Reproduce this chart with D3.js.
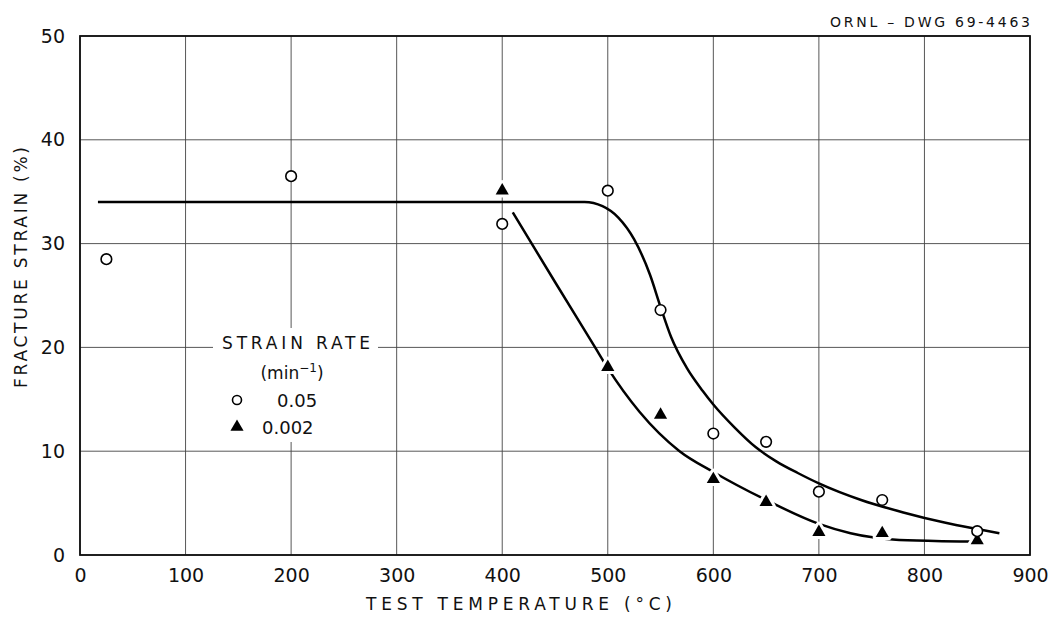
<!DOCTYPE html>
<html>
<head>
<meta charset="utf-8">
<script src="https://cdn.jsdelivr.net/npm/d3@7"></script>
<style>
  body { margin: 0; background: #fff; }
  svg { display: block; }
  text { font-family: "DejaVu Sans", sans-serif; fill: #111; }
  .grid line { stroke: #444; stroke-width: 0.9; }
  .curve { fill: none; stroke: #000; stroke-width: 2.5; }
</style>
</head>
<body>
<svg id="chart" width="1054" height="619"></svg>
<script>
// tick labels
var xTicks = [0, 100, 200, 300, 400, 500, 600, 700, 800, 900];
var yTicks = [0, 10, 20, 30, 40, 50];

// strain rate 0.05 min^-1 (open circles)
var fastTemp   = [25, 200, 400, 500, 550, 600, 650, 700, 760, 850];
var fastStrain = [28.5, 36.5, 31.9, 35.1, 23.6, 11.7, 10.9, 6.1, 5.3, 2.3];

// strain rate 0.002 min^-1 (filled triangles)
var slowTemp   = [400, 500, 550, 600, 650, 700, 760, 850];
var slowStrain = [35.0, 18.0, 13.4, 7.2, 5.0, 2.1, 2.0, 1.3];

// hand-drawn fit curves
var fastCurveTemp   = [17, 300, 478, 495, 510, 525, 540, 550, 560, 575, 590, 600, 620, 640, 660, 680, 700, 740, 780, 820, 850, 871];
var fastCurveStrain = [34, 34, 34, 33.6, 32.5, 30.4, 27.0, 23.9, 21.0, 18.0, 15.8, 14.5, 12.3, 10.4, 9.0, 7.9, 6.9, 5.3, 4.1, 3.1, 2.5, 2.1];
var slowCurveTemp   = [410, 450, 488, 500, 530, 568, 600, 650, 700, 730, 770, 810, 845];
var slowCurveStrain = [33, 26.3, 20, 18, 13.8, 10, 8.0, 5.3, 3.0, 2.1, 1.5, 1.35, 1.3];

var svg = d3.select("#chart");

var x = d3.scaleLinear().domain([0, 900]).range([80, 1030]);
var y = d3.scaleLinear().domain([0, 50]).range([555, 36]);

/* grid */
var grid = svg.append("g").attr("class", "grid");
grid.selectAll("line.v").data(xTicks).enter().append("line")
  .attr("class", "v")
  .attr("x1", function(d) { return x(d); }).attr("x2", function(d) { return x(d); })
  .attr("y1", y(0)).attr("y2", y(50));
grid.selectAll("line.h").data(yTicks).enter().append("line")
  .attr("class", "h")
  .attr("x1", x(0)).attr("x2", x(900))
  .attr("y1", function(d) { return y(d); }).attr("y2", function(d) { return y(d); });

// legend background cuts the grid
svg.append("rect")
  .attr("x", 213).attr("y", 328).attr("width", 165).attr("height", 114)
  .attr("fill", "#fff");

// frame
svg.append("rect")
  .attr("x", x(0)).attr("y", y(50))
  .attr("width", x(900) - x(0)).attr("height", y(0) - y(50))
  .attr("fill", "none").attr("stroke", "#111").attr("stroke-width", 1.8);

/* axes labels */
var yAxis = d3.axisLeft(y).tickValues(yTicks).tickSize(0).tickPadding(15);
svg.append("g").attr("transform", "translate(" + x(0) + ",0)").call(yAxis)
  .call(function(g) { g.select(".domain").remove(); })
  .selectAll("text").style("font-size", "19px").attr("fill", "#111");

var xAxis = d3.axisBottom(x).tickValues(xTicks).tickSize(0).tickPadding(14);
svg.append("g").attr("transform", "translate(0," + y(0) + ")").call(xAxis)
  .call(function(g) { g.select(".domain").remove(); })
  .selectAll("text").style("font-size", "19px").attr("fill", "#111");

svg.append("text")
  .attr("x", 366).attr("y", 610)
  .attr("textLength", 306).attr("lengthAdjust", "spacing")
  .style("font-size", "17px")
  .text("TEST TEMPERATURE (°C)");

svg.append("text")
  .attr("transform", "translate(27,388) rotate(-90)")
  .attr("textLength", 241).attr("lengthAdjust", "spacing")
  .style("font-size", "17px")
  .text("FRACTURE STRAIN (%)");

svg.append("text")
  .attr("x", 830).attr("y", 27)
  .attr("textLength", 200).attr("lengthAdjust", "spacing")
  .style("font-size", "14px")
  .text("ORNL – DWG 69-4463");

/* curves */
var line = d3.line()
  .x(function(d) { return x(d[0]); })
  .y(function(d) { return y(d[1]); })
  .curve(d3.curveMonotoneX);

svg.append("path").attr("class", "curve")
  .attr("d", line(d3.zip(fastCurveTemp, fastCurveStrain)));
svg.append("path").attr("class", "curve")
  .attr("d", line(d3.zip(slowCurveTemp, slowCurveStrain)));

/* markers */
var tri = d3.symbol().type(d3.symbolTriangle).size(75);

svg.selectAll("path.tri").data(d3.zip(slowTemp, slowStrain)).enter().append("path")
  .attr("class", "tri")
  .attr("d", tri)
  .attr("transform", function(d) { return "translate(" + x(d[0]) + "," + (y(d[1]) - 1) + ")"; })
  .attr("fill", "#000").attr("stroke", "#fff").attr("stroke-width", 6)
  .attr("stroke-linejoin", "round")
  .attr("paint-order", "stroke");

svg.selectAll("circle.pt").data(d3.zip(fastTemp, fastStrain)).enter().append("circle")
  .attr("class", "pt")
  .attr("cx", function(d) { return x(d[0]); })
  .attr("cy", function(d) { return y(d[1]); })
  .attr("r", 5.3)
  .attr("fill", "#fff").attr("stroke", "#000").attr("stroke-width", 1.6);

/* legend */
var legend = svg.append("g");
legend.append("text").attr("x", 222).attr("y", 349)
  .attr("textLength", 148).attr("lengthAdjust", "spacing")
  .style("font-size", "17px").text("STRAIN RATE");
var unit = legend.append("text").attr("x", 292).attr("y", 379)
  .attr("text-anchor", "middle").style("font-size", "17px");
unit.append("tspan").text("(min");
unit.append("tspan").attr("dy", -7).style("font-size", "12px").text("−1");
unit.append("tspan").attr("dy", 7).text(")");

legend.append("circle").attr("cx", 237).attr("cy", 400).attr("r", 4.5)
  .attr("fill", "#fff").attr("stroke", "#000").attr("stroke-width", 1.6);
legend.append("text").attr("x", 277).attr("y", 407).style("font-size", "18px").text("0.05");
legend.append("path").attr("d", tri)
  .attr("transform", "translate(237,427)").attr("fill", "#000");
legend.append("text").attr("x", 262).attr("y", 434).style("font-size", "18px").text("0.002");
</script>
</body>
</html>
